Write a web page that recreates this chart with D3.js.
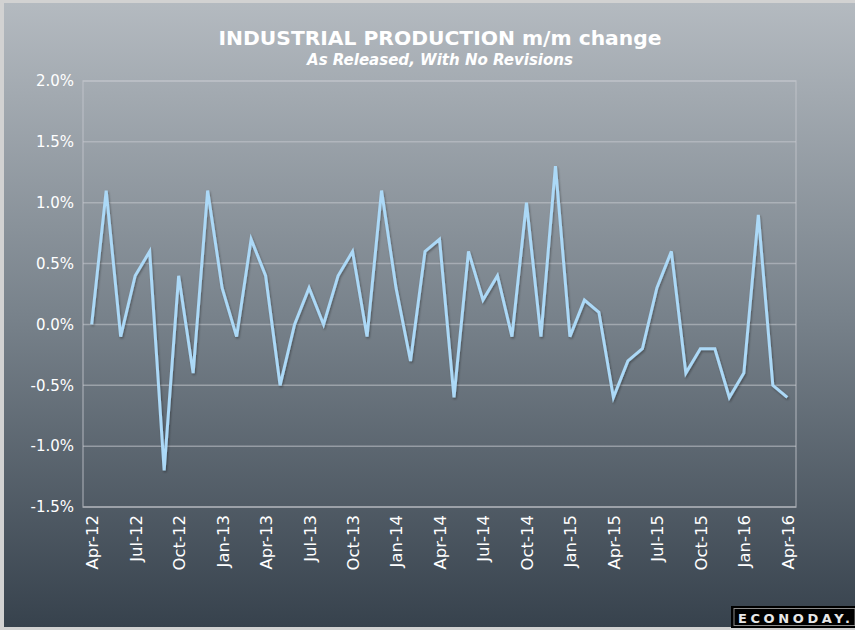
<!DOCTYPE html>
<html>
<head>
<meta charset="utf-8">
<script src="https://cdn.jsdelivr.net/npm/d3@7"></script>
<style>
html,body{margin:0;padding:0;background:#d4d4d4;}
svg{display:block;}
</style>
</head>
<body>
<svg id="chart" width="855" height="630"></svg>
<script>
const categories = [
 "Apr-12","May-12","Jun-12","Jul-12","Aug-12","Sep-12","Oct-12","Nov-12","Dec-12",
 "Jan-13","Feb-13","Mar-13","Apr-13","May-13","Jun-13","Jul-13","Aug-13","Sep-13","Oct-13","Nov-13","Dec-13",
 "Jan-14","Feb-14","Mar-14","Apr-14","May-14","Jun-14","Jul-14","Aug-14","Sep-14","Oct-14","Nov-14","Dec-14",
 "Jan-15","Feb-15","Mar-15","Apr-15","May-15","Jun-15","Jul-15","Aug-15","Sep-15","Oct-15","Nov-15","Dec-15",
 "Jan-16","Feb-16","Mar-16","Apr-16"
];
const values = [
 0.0, 1.1, -0.1, 0.4, 0.6, -1.2, 0.4, -0.4, 1.1,
 0.3, -0.1, 0.7, 0.4, -0.5, 0.0, 0.3, 0.0, 0.4, 0.6, -0.1, 1.1,
 0.3, -0.3, 0.6, 0.7, -0.6, 0.6, 0.2, 0.4, -0.1, 1.0, -0.1, 1.3,
 -0.1, 0.2, 0.1, -0.6, -0.3, -0.2, 0.3, 0.6, -0.4, -0.2, -0.2, -0.6,
 -0.4, 0.9, -0.5, -0.6
];
const yTicks = [-1.5, -1.0, -0.5, 0.0, 0.5, 1.0, 1.5, 2.0];
const xTickLabels = categories.filter((d, i) => i % 3 === 0);
const title = "INDUSTRIAL PRODUCTION m/m change";
const subtitle = "As Released, With No Revisions";

const svg = d3.select("#chart");
const defs = svg.append("defs");
const grad = defs.append("linearGradient").attr("id","bg").attr("x1",0).attr("y1",0).attr("x2",0).attr("y2",1);
grad.append("stop").attr("offset","0%").attr("stop-color","#b4bac0");
grad.append("stop").attr("offset","50%").attr("stop-color","#78828b");
grad.append("stop").attr("offset","100%").attr("stop-color","#37424d");
const f = defs.append("filter").attr("id","sh").attr("x","-5%").attr("y","-5%").attr("width","110%").attr("height","110%");
f.append("feDropShadow").attr("dx",1).attr("dy",1.5).attr("stdDeviation",1.2).attr("flood-color","#000").attr("flood-opacity",0.35);

// frame + background
svg.append("rect").attr("x",0).attr("y",0).attr("width",855).attr("height",630).attr("fill","#d2d2d2");
svg.append("rect").attr("x",4).attr("y",3).attr("width",851).attr("height",624).attr("fill","url(#bg)");

const pLeft = 83, pRight = 796, pTop = 81, pBottom = 507;
const x = d3.scaleLinear().domain([-0.6, categories.length - 0.4]).range([pLeft, pRight]);
const y = d3.scaleLinear().domain([-1.5, 2.0]).range([pBottom, pTop]);

// gridlines
svg.append("g").selectAll("line").data(yTicks).join("line")
  .attr("x1", pLeft).attr("x2", pRight)
  .attr("y1", d => y(d)).attr("y2", d => y(d))
  .attr("stroke", "#c4c9ce").attr("stroke-opacity", 0.55).attr("stroke-width", 1.5);
// plot frame
svg.append("rect").attr("x", pLeft).attr("y", pTop).attr("width", pRight - pLeft).attr("height", pBottom - pTop)
  .attr("fill","none").attr("stroke","#c4c9ce").attr("stroke-opacity",0.55).attr("stroke-width",1.5);

// y axis labels
const yAxis = d3.axisLeft(y).tickValues(yTicks).tickFormat(d => d.toFixed(1) + "%").tickSize(0).tickPadding(9);
const gy = svg.append("g").attr("transform", `translate(${pLeft},0)`).call(yAxis);
gy.select(".domain").remove();
gy.selectAll("text").attr("fill","#ffffff").attr("font-family","'DejaVu Sans', Verdana, sans-serif").attr("font-size","15px");

// x axis labels
const xAxis = d3.axisBottom(x)
  .tickValues(categories.map((d,i)=>i).filter(i => xTickLabels.includes(categories[i])))
  .tickFormat(i => categories[i]).tickSize(0);
const gx = svg.append("g").attr("transform", `translate(0,${pBottom})`).call(xAxis);
gx.select(".domain").remove();
gx.selectAll("text")
  .attr("fill","#ffffff").attr("font-family","'DejaVu Sans', Verdana, sans-serif").attr("font-size","16.5px")
  .attr("transform","rotate(-90)").attr("text-anchor","end")
  .attr("x",-8).attr("y",0).attr("dy","0.36em");

// line
const line = d3.line().x((d,i) => x(i)).y(d => y(d)).curve(d3.curveLinear);
svg.append("path").datum(values).attr("d", line)
  .attr("fill","none").attr("stroke","#acd9f7").attr("stroke-width",3)
  .attr("stroke-linejoin","miter").attr("filter","url(#sh)");

// titles
svg.append("text").attr("x",440).attr("y",45).attr("text-anchor","middle")
  .attr("font-family","'DejaVu Sans Condensed','DejaVu Sans',sans-serif").attr("font-weight","bold")
  .attr("font-size","20px").attr("fill","#ffffff")
  .attr("textLength",443).attr("lengthAdjust","spacingAndGlyphs").text(title);
svg.append("text").attr("x",440).attr("y",65).attr("text-anchor","middle")
  .attr("font-family","'DejaVu Sans Condensed','DejaVu Sans',sans-serif").attr("font-weight","bold").attr("font-style","italic")
  .attr("font-size","15px").attr("fill","#ffffff")
  .attr("textLength",266).attr("lengthAdjust","spacingAndGlyphs").text(subtitle);

// logo
const lg = svg.append("g");
lg.append("rect").attr("x",731).attr("y",606).attr("width",124).attr("height",22).attr("fill","#000");
lg.append("rect").attr("x",734).attr("y",608.5).attr("width",121).attr("height",17).attr("fill","none").attr("stroke","#8a8a8a").attr("stroke-width",1);
lg.append("text").attr("x",794).attr("y",622.5).attr("text-anchor","middle")
  .attr("font-family","'DejaVu Sans',sans-serif").attr("font-weight","bold").attr("font-size","13px")
  .attr("fill","#e8e8e8").attr("textLength",112).attr("lengthAdjust","spacing").text("ECONODAY.");
</script>
</body>
</html>
